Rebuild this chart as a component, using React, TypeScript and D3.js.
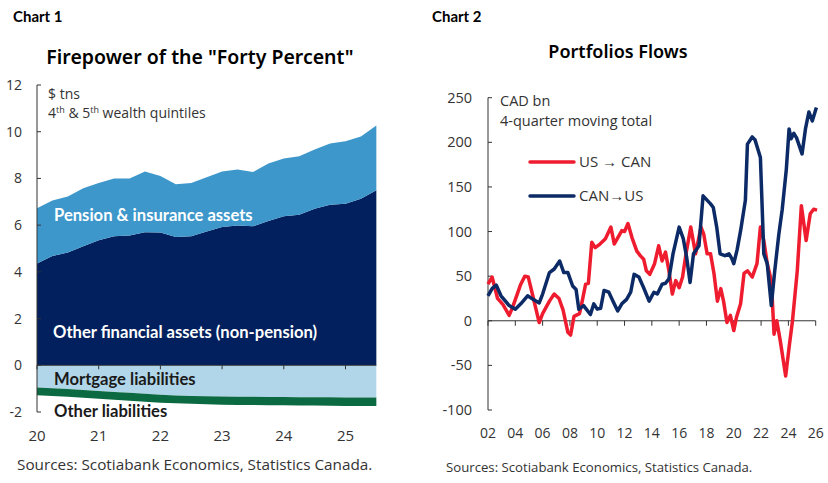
import * as React from "react";
import * as d3 from "d3";

// ---- Chart 1: wealth of 4th & 5th quintiles, $ tns ----
const quarters = [
  "2020Q1", "2020Q2", "2020Q3", "2020Q4", "2021Q1", "2021Q2", "2021Q3", "2021Q4",
  "2022Q1", "2022Q2", "2022Q3", "2022Q4", "2023Q1", "2023Q2", "2023Q3", "2023Q4",
  "2024Q1", "2024Q2", "2024Q3", "2024Q4", "2025Q1", "2025Q2", "2025Q3",
];
const otherFinancial = [4.36, 4.68, 4.83, 5.1, 5.35, 5.52, 5.56, 5.7, 5.69, 5.49, 5.52, 5.73, 5.92, 5.99, 5.95, 6.18, 6.38, 6.45, 6.7, 6.87, 6.92, 7.13, 7.49];
const pensionInsurance = [2.36, 2.38, 2.4, 2.48, 2.45, 2.48, 2.44, 2.6, 2.41, 2.26, 2.28, 2.32, 2.38, 2.39, 2.32, 2.46, 2.47, 2.5, 2.54, 2.63, 2.67, 2.67, 2.78];
const mortgageLiab = [-0.95, -0.98, -1.02, -1.06, -1.1, -1.14, -1.18, -1.22, -1.26, -1.29, -1.31, -1.33, -1.34, -1.35, -1.35, -1.36, -1.36, -1.37, -1.37, -1.37, -1.38, -1.38, -1.38];
const otherLiab = [-0.33, -0.33, -0.33, -0.33, -0.33, -0.34, -0.34, -0.34, -0.34, -0.34, -0.34, -0.34, -0.35, -0.35, -0.35, -0.35, -0.35, -0.35, -0.35, -0.36, -0.36, -0.36, -0.36];
const yTicks1 = [12, 10, 8, 6, 4, 2, 0, -2];
const xTicks1 = [2020, 2021, 2022, 2023, 2024, 2025];

// ---- Chart 2: portfolio flows, CAD bn, 4-quarter moving total ----
const usToCan: [number, number][] = [
  [2002.0, 41], [2002.3, 49], [2002.7, 25], [2003.1, 18], [2003.55, 6], [2003.8, 15], [2004.4, 41], [2004.7, 50],
  [2004.95, 49], [2005.25, 30], [2005.75, -2], [2006.0, 8], [2006.5, 22], [2006.85, 30], [2007.2, 25], [2007.5, 12],
  [2007.85, -13], [2008.05, -16], [2008.3, 5], [2008.7, 8], [2008.9, 22], [2009.15, 41], [2009.35, 42], [2009.6, 88],
  [2009.85, 82], [2010.2, 86], [2010.6, 92], [2011.0, 105], [2011.25, 86], [2011.5, 93], [2011.8, 101], [2012.0, 100],
  [2012.25, 109], [2012.55, 93], [2012.9, 78], [2013.15, 73], [2013.4, 69], [2013.6, 56], [2013.85, 52], [2014.2, 64],
  [2014.5, 84], [2014.75, 67], [2015.0, 77], [2015.25, 56], [2015.5, 30], [2015.75, 45], [2016.0, 37], [2016.25, 49],
  [2016.5, 75], [2016.85, 105], [2017.2, 75], [2017.6, 105], [2017.8, 97], [2018.05, 75], [2018.3, 75], [2018.55, 53],
  [2018.8, 22], [2019.05, 36], [2019.25, 22], [2019.5, -2], [2019.75, 6], [2020.0, -11], [2020.2, 4], [2020.5, 19],
  [2020.75, 53], [2021.0, 56], [2021.35, 49], [2021.7, 64], [2021.95, 105], [2022.2, 90], [2022.45, 64], [2022.75, 45],
  [2022.95, -15], [2023.15, 0], [2023.4, -22], [2023.8, -62], [2024.05, -30], [2024.3, 0], [2024.65, 56], [2024.95, 129],
  [2025.3, 90], [2025.6, 120], [2025.85, 125], [2026.1, 124],
];
const canToUs: [number, number][] = [
  [2002.0, 28], [2002.3, 36], [2002.6, 40], [2002.95, 28], [2003.55, 17], [2004.0, 13], [2004.4, 19], [2004.9, 28],
  [2005.3, 24], [2005.75, 20], [2006.0, 30], [2006.5, 54], [2006.85, 58], [2007.25, 67], [2007.55, 54], [2007.85, 54],
  [2008.2, 39], [2008.45, 35], [2008.65, 13], [2009.0, 17], [2009.5, 7], [2009.75, 19], [2010.0, 13], [2010.25, 14],
  [2010.5, 34], [2010.85, 32], [2011.15, 22], [2011.5, 11], [2011.8, 19], [2012.15, 24], [2012.45, 32], [2012.7, 52],
  [2013.05, 49], [2013.4, 37], [2013.8, 22], [2014.15, 32], [2014.4, 30], [2014.75, 41], [2015.0, 42], [2015.25, 47],
  [2015.55, 75], [2016.0, 105], [2016.3, 92], [2016.55, 71], [2016.8, 43], [2017.05, 75], [2017.45, 84], [2017.75, 140],
  [2018.3, 131], [2018.5, 127], [2018.75, 105], [2019.0, 75], [2019.35, 73], [2019.65, 75], [2019.85, 70], [2020.0, 64],
  [2020.25, 80], [2020.5, 101], [2020.85, 135], [2021.0, 198], [2021.35, 206], [2021.55, 203], [2021.75, 193], [2021.95, 183],
  [2022.2, 75], [2022.45, 64], [2022.75, 17], [2023.0, 56], [2023.3, 97], [2023.55, 125], [2023.85, 170], [2024.05, 215],
  [2024.2, 204], [2024.4, 210], [2024.6, 205], [2025.0, 187], [2025.25, 215], [2025.5, 234], [2025.75, 224], [2026.05, 239],
];
const yTicks2 = [250, 200, 150, 100, 50, 0, -50, -100];
const xTicks2 = [2002, 2004, 2006, 2008, 2010, 2012, 2014, 2016, 2018, 2020, 2022, 2024, 2026];

const FONT = "'Open Sans', 'Noto Sans', sans-serif";
const BOLD = "Lato, 'Open Sans', sans-serif";
const TXT = "#333";

const C_NAVY = "#02205d";
const C_PENSION = "#3d97cb";
const C_MORT = "#b1d6ea";
const C_GREEN = "#0c6a43";
const C_RED = "#ee1c2e";
const C_BLUE = "#0b2a66";

function Chart1() {
  const x = d3.scaleLinear().domain([2020, 2025]).range([37, 345.5]);
  const y = d3.scaleLinear().domain([-2, 12]).range([412, 85]);
  const rows = quarters.map((q, i) => ({
    t: +q.slice(0, 4) + (+q.slice(5) - 1) / 4,
    other: otherFinancial[i],
    pension: pensionInsurance[i],
    mortgage: mortgageLiab[i],
    otherLiab: otherLiab[i],
  }));
  const keys = ["other", "pension", "mortgage", "otherLiab"];
  const colors: Record<string, string> = { other: C_NAVY, pension: C_PENSION, mortgage: C_MORT, otherLiab: C_GREEN };
  const series = d3.stack<any>().keys(keys).offset(d3.stackOffsetDiverging)(rows);
  const area = d3.area<any>()
    .x(d => x(d.data.t))
    .y0(d => y(d[0]))
    .y1(d => y(d[1]));

  return (
    <g>
      <text x={13} y={22} fontFamily={BOLD} fontWeight={700} fontSize={15} fill="#000">Chart 1</text>
      <text x={200} y={64} textAnchor="middle" fontFamily="'Noto Sans', sans-serif" fontWeight={600} fontSize={19.5} fill="#000">
        Firepower of the "Forty Percent"
      </text>
      {series.map(s => (
        <path key={s.key} d={area(s) || ""} fill={colors[s.key]} />
      ))}
      {/* y axis */}
      <line x1={37} x2={37} y1={y(12)} y2={y(-2)} stroke={TXT} strokeWidth={1} />
      {yTicks1.map(v => (
        <g key={v}>
          <line x1={37} x2={41} y1={y(v)} y2={y(v)} stroke={TXT} />
          <text x={22} y={y(v) + 5} textAnchor="end" fontFamily={FONT} fontSize={14} fill={TXT}>{v}</text>
        </g>
      ))}
      {/* x axis on zero */}
      <line x1={37} x2={x(2025.5)} y1={y(0)} y2={y(0)} stroke={TXT} strokeWidth={1} />
      {xTicks1.map(v => (
        <g key={v}>
          <line x1={x(v)} x2={x(v)} y1={y(0)} y2={y(0) + 4} stroke={TXT} />
          <text x={x(v)} y={441} textAnchor="middle" fontFamily={FONT} fontSize={15} fill={TXT}>{String(v % 100)}</text>
        </g>
      ))}
      <text x={48} y={99} fontFamily={FONT} fontSize={14} fill={TXT}>$ tns</text>
      <text x={48} y={118} fontFamily={FONT} fontSize={14} fill={TXT}>
        4<tspan fontSize={9} dy={-5}>th</tspan><tspan dy={5}> &amp; 5</tspan><tspan fontSize={9} dy={-5}>th</tspan><tspan dy={5}> wealth quintiles</tspan>
      </text>
      <text x={54} y={221} fontFamily={BOLD} fontWeight={700} fontSize={16.6} fill="#fff">Pension &amp; insurance assets</text>
      <text x={53} y={338} fontFamily={BOLD} fontWeight={700} fontSize={16.6} fill="#fff">Other financial assets (non-pension)</text>
      <text x={54} y={385} fontFamily={BOLD} fontWeight={700} fontSize={16.6} fill="#1a1a1a">Mortgage liabilities</text>
      <text x={54} y={417} fontFamily={BOLD} fontWeight={700} fontSize={16.6} fill="#1a1a1a">Other liabilities</text>
      <text x={17} y={470} fontFamily={FONT} fontSize={15.3} fill={TXT}>Sources: Scotiabank Economics, Statistics Canada.</text>
    </g>
  );
}

function Chart2() {
  const x = d3.scaleLinear().domain([2002, 2026]).range([488, 815.7]);
  const y = d3.scaleLinear().domain([-100, 250]).range([410, 97.7]);
  const line = d3.line<[number, number]>()
    .x(d => x(d[0]))
    .y(d => y(d[1]));

  return (
    <g>
      <text x={432} y={22} fontFamily={BOLD} fontWeight={700} fontSize={15} fill="#000">Chart 2</text>
      <text x={618} y={58} textAnchor="middle" fontFamily="'Noto Sans', sans-serif" fontWeight={600} fontSize={18} fill="#000">
        Portfolios Flows
      </text>
      <line x1={488} x2={488} y1={y(250)} y2={y(-100)} stroke={TXT} strokeWidth={1} />
      {yTicks2.map(v => (
        <g key={v}>
          <line x1={488} x2={492} y1={y(v)} y2={y(v)} stroke={TXT} />
          <text x={472} y={y(v) + 5} textAnchor="end" fontFamily={FONT} fontSize={14.5} fill={TXT}>{v}</text>
        </g>
      ))}
      <line x1={488} x2={x(2026)} y1={y(0)} y2={y(0)} stroke={TXT} strokeWidth={1} />
      {xTicks2.map(v => (
        <g key={v}>
          <line x1={x(v)} x2={x(v)} y1={y(0)} y2={y(0) + 5} stroke={TXT} />
          <text x={x(v)} y={438} textAnchor="middle" fontFamily={FONT} fontSize={14} fill={TXT}>
            {String(v % 100).padStart(2, "0")}
          </text>
        </g>
      ))}
      <path d={line(usToCan) || ""} fill="none" stroke={C_RED} strokeWidth={3.5} strokeLinejoin="round" />
      <path d={line(canToUs) || ""} fill="none" stroke={C_BLUE} strokeWidth={3.5} strokeLinejoin="round" />
      <text x={500} y={106} fontFamily={FONT} fontSize={14.5} fill={TXT}>CAD bn</text>
      <text x={500} y={126} fontFamily={FONT} fontSize={14.5} fill={TXT}>4-quarter moving total</text>
      <line x1={530} x2={574} y1={162} y2={162} stroke={C_RED} strokeWidth={3.5} strokeLinecap="round" />
      <text x={579} y={167} fontFamily={FONT} fontSize={15} fill={TXT}>US → CAN</text>
      <line x1={530} x2={574} y1={196} y2={196} stroke={C_BLUE} strokeWidth={3.5} strokeLinecap="round" />
      <text x={579} y={201} fontFamily={FONT} fontSize={15} fill={TXT}>CAN→US</text>
      <text x={446} y={472} fontFamily={FONT} fontSize={13.2} fill={TXT}>Sources: Scotiabank Economics, Statistics Canada.</text>
    </g>
  );
}

export default function App() {
  return (
    <svg width={828} height={483} style={{ position: "absolute", left: 0, top: 0, background: "#fff" }}>
      <Chart1 />
      <Chart2 />
    </svg>
  );
}
